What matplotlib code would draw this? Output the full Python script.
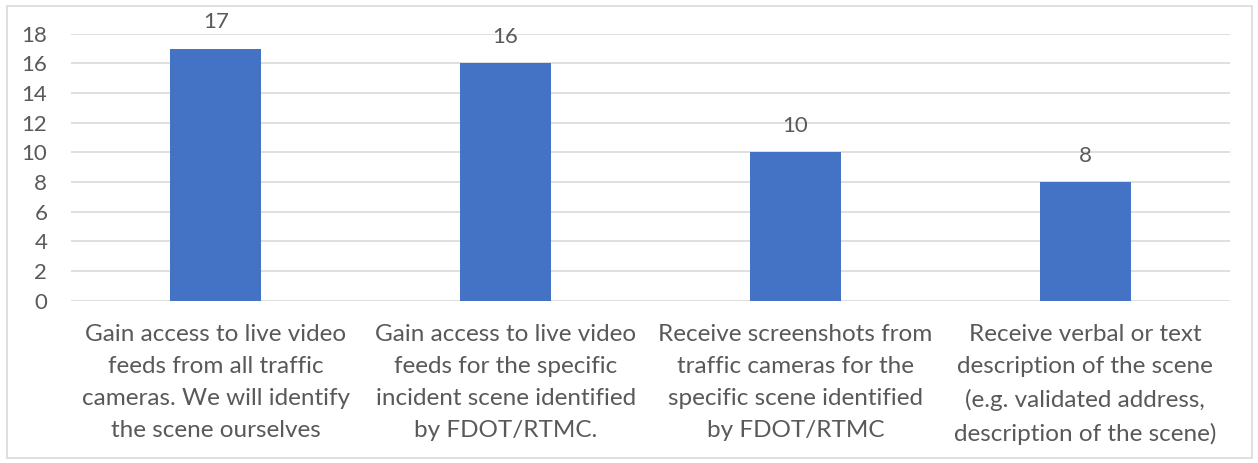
import matplotlib
matplotlib.use("Agg")
import matplotlib.pyplot as plt
from matplotlib.patches import Rectangle

categories = [
    "Gain access to live video\nfeeds from all traffic\ncameras. We will identify\nthe scene ourselves",
    "Gain access to live video\nfeeds for the specific\nincident scene identified\nby FDOT/RTMC.",
    "Receive screenshots from\ntraffic cameras for the\nspecific scene identified\nby FDOT/RTMC",
    "Receive verbal or text\ndescription of the scene\n(e.g. validated address,\ndescription of the scene)",
]
counts = [17, 16, 10, 8]
yticks = list(range(0, 19, 2))

plt.rcParams['font.family'] = ['Lato', 'DejaVu Sans']
text_col = '#595959'

fig = plt.figure(figsize=(12.58, 4.63), dpi=100)
ax = fig.add_axes([0.0564, 0.3505, 0.9213, 0.5767])

x = range(len(counts))
bars = ax.bar(x, counts, width=0.314, color='#4472C4', zorder=3)
for b, v in zip(bars, counts):
    ax.text(b.get_x() + b.get_width() / 2, v + 1.1, str(v), ha='center', va='bottom',
            fontsize=16, color=text_col, clip_on=False)

ax.set_xlim(-0.5, len(counts) - 0.5)
ax.set_ylim(0, 18)
ax.set_yticks(yticks)
ax.set_xticks(list(x))
ax.set_xticklabels(categories, fontsize=17.5, color=text_col, linespacing=1.65)
ax.tick_params(axis='y', labelsize=16, labelcolor=text_col, length=0, pad=17)
ax.tick_params(axis='x', length=0, pad=17)
ax.yaxis.grid(True, color='#D9D9D9', linewidth=1.2, zorder=0)
for s in ax.spines.values():
    s.set_visible(False)

fig.patches.append(Rectangle((7 / 1258, 5 / 463), 1245 / 1258, 452 / 463,
                             transform=fig.transFigure, fill=False,
                             edgecolor='#D9D9D9', linewidth=1.2))

fig.savefig('out.png', dpi=100)
